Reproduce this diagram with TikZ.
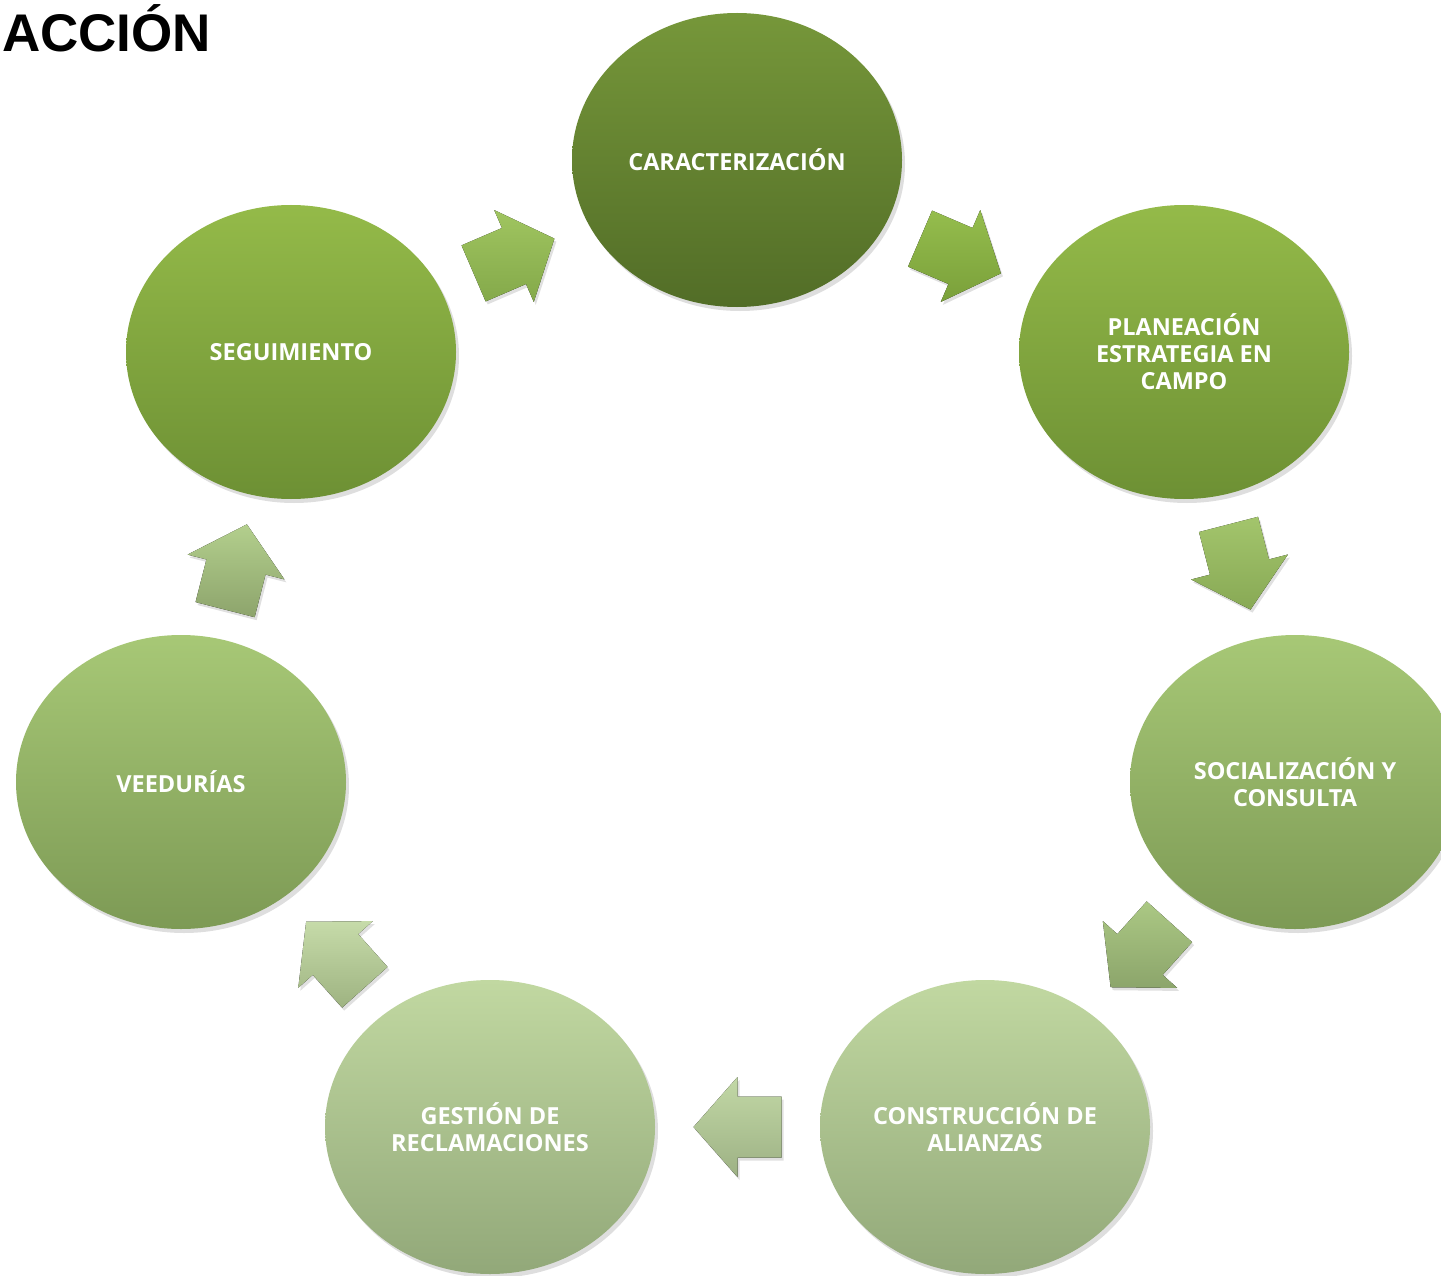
\documentclass[tikz,border=0pt]{standalone}
\usepackage{fontspec}
\setmainfont{Open Sans}
\newfontfamily\titlefont{Liberation Sans}
\usetikzlibrary{shapes.geometric,calc,shadows}
\definecolor{carT}{HTML}{76973A}\definecolor{carB}{HTML}{526D27}
\definecolor{lvAT}{HTML}{94BA49}\definecolor{lvAB}{HTML}{6D9034}
\definecolor{lvBT}{HTML}{A7C876}\definecolor{lvBB}{HTML}{7D9A55}
\definecolor{lvCT}{HTML}{C1D8A1}\definecolor{lvCB}{HTML}{92A879}
\definecolor{arAT}{HTML}{A0C560}\definecolor{arAB}{HTML}{84A94A}
\definecolor{arBT}{HTML}{95BD4D}\definecolor{arBB}{HTML}{7AA03A}
\definecolor{arCT}{HTML}{A3C56C}\definecolor{arCB}{HTML}{88A955}
\definecolor{arDT}{HTML}{ABC884}\definecolor{arDB}{HTML}{8CA56B}
\definecolor{arET}{HTML}{C2D8A6}\definecolor{arEB}{HTML}{9DB184}
\definecolor{arFT}{HTML}{C6DBA9}\definecolor{arFB}{HTML}{9EB381}
\definecolor{arGT}{HTML}{B3CF8D}\definecolor{arGB}{HTML}{8DA46C}
\newcommand\flowarrow[4]{%
  \pgfmathanglebetweenpoints{\pgfpointanchor{#1}{center}}{\pgfpointanchor{#2}{center}}%
  \pgfmathsetmacro\fa{\pgfmathresult}%
  \pgfmathsetmacro\fb{\fa+90}%
  \coordinate (m-#1-#2) at ($(#1)!0.5!(#2)$);
  \fill[arrowshade, top color=#3, bottom color=#4]
    ($(m-#1-#2)+(\fa:-44pt)+(\fb:30.5pt)$) -- ($(m-#1-#2)+(\fb:30.5pt)$) --
    ($(m-#1-#2)+(\fb:50pt)$) -- ($(m-#1-#2)+(\fa:44pt)$) --
    ($(m-#1-#2)+(\fb:-50pt)$) -- ($(m-#1-#2)+(\fb:-30.5pt)$) --
    ($(m-#1-#2)+(\fa:-44pt)+(\fb:-30.5pt)$) -- cycle;
}
\tikzset{
  stage/.style={ellipse, minimum width=330pt, minimum height=294pt, inner sep=0pt,
    align=center, text=white, font=\fontsize{23.5}{27}\selectfont\bfseries,
    drop shadow={shadow xshift=3pt, shadow yshift=-4pt, opacity=0.13, fill=black}},
  arrowshade/.style={drop shadow={shadow xshift=2pt, shadow yshift=-3pt, opacity=0.12, fill=black}},
  titletext/.style={anchor=base west, inner sep=0pt, font=\titlefont\fontsize{53}{60}\selectfont\bfseries}
}
\begin{document}
\begin{tikzpicture}[x=1pt, y=-1pt]
\useasboundingbox (0,0) rectangle (1441,1276);
\clip (0,0) rectangle (1441,1276);
\fill[white] (0,0) rectangle (1441,1276);
\node[titletext] (title) at (2,52) {ACCIÓN};
\node[stage, top color=carT, bottom color=carB] (car) at (737,160) {CARACTERIZACIÓN};
\node[stage, top color=lvAT, bottom color=lvAB] (pla) at (1184,352) {PLANEACIÓN\\ESTRATEGIA EN\\CAMPO};
\node[stage, top color=lvAT, bottom color=lvAB] (seg) at (291,352) {SEGUIMIENTO};
\node[stage, top color=lvBT, bottom color=lvBB] (soc) at (1295,782) {SOCIALIZACIÓN Y\\CONSULTA};
\node[stage, top color=lvBT, bottom color=lvBB] (vee) at (181,782) {VEEDURÍAS};
\node[stage, top color=lvCT, bottom color=lvCB] (con) at (985,1127) {CONSTRUCCIÓN DE\\ALIANZAS};
\node[stage, top color=lvCT, bottom color=lvCB] (ges) at (490,1127) {GESTIÓN DE\\RECLAMACIONES};
\flowarrow{seg}{car}{arAT}{arAB}
\flowarrow{car}{pla}{arBT}{arBB}
\flowarrow{pla}{soc}{arCT}{arCB}
\flowarrow{soc}{con}{arDT}{arDB}
\flowarrow{con}{ges}{arET}{arEB}
\flowarrow{ges}{vee}{arFT}{arFB}
\flowarrow{vee}{seg}{arGT}{arGB}
\end{tikzpicture}
\end{document}
